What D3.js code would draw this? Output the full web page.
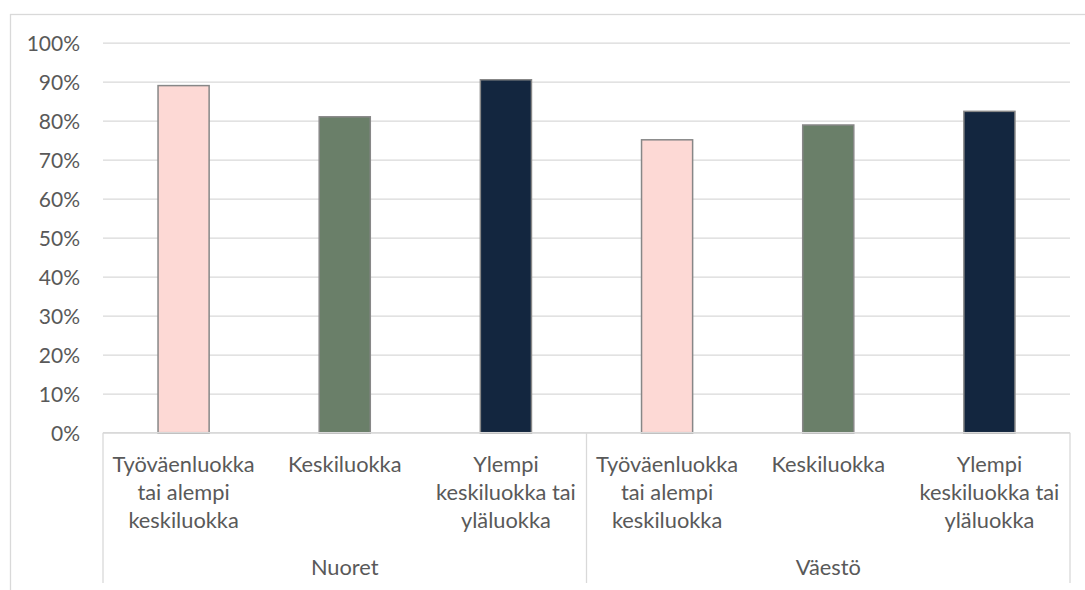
<!DOCTYPE html>
<html>
<head>
<meta charset="utf-8">
<script src="https://cdn.jsdelivr.net/npm/d3@7"></script>
<style>
  html, body { margin: 0; padding: 0; background: #fff; }
  svg { display: block; }
  text { font-family: Lato, "Open Sans", sans-serif; fill: #595959; }
</style>
</head>
<body>
<svg id="chart" width="1085" height="590"></svg>
<script>
const groups = ["Nuoret", "Väestö"];
const classes = ["Työväenluokka tai alempi keskiluokka", "Keskiluokka", "Ylempi keskiluokka tai yläluokka"];
const classLabelLines = [["Työväenluokka", "tai alempi", "keskiluokka"], ["Keskiluokka"], ["Ylempi", "keskiluokka tai", "yläluokka"]];
const nuoretValues = [89.0, 81.0, 90.5];
const vaestoValues = [75.1, 78.9, 82.4];
const yTicks = [0, 10, 20, 30, 40, 50, 60, 70, 80, 90, 100];
const classColors = ["#FDD9D5", "#6A7F69", "#13263F"];

const seriesByGroup = { "Nuoret": nuoretValues, "Väestö": vaestoValues };

(function () {
const svg = d3.select("#chart");
const pLeft = 103, pRight = 1070, pTop = 42.7, pBottom = 432.7;
const labelSize = 21.8;

// outer chart frame
svg.append("rect")
  .attr("x", 10.5).attr("y", 14.5)
  .attr("width", 1100).attr("height", 600)
  .attr("fill", "none").attr("stroke", "#d9d9d9").attr("stroke-width", 1.3);

const y = d3.scaleLinear().domain([0, 100]).range([pBottom, pTop]);
const xGroup = d3.scaleBand().domain(groups).range([pLeft, pRight]).padding(0);
const pad = 0.683;
const xClass = d3.scaleBand().domain(classes).range([0, xGroup.bandwidth()])
  .paddingInner(pad).paddingOuter(pad / 2);

// gridlines
const yAxis = d3.axisLeft(y).tickValues(yTicks).tickFormat(d => d + "%").tickSize(-(pRight - pLeft)).tickPadding(23);
const gy = svg.append("g").attr("transform", `translate(${pLeft},0)`).call(yAxis);
gy.select(".domain").remove();
gy.selectAll(".tick line").attr("stroke", "#d9d9d9").attr("stroke-width", 1.3);
gy.selectAll(".tick text").attr("font-size", 21).attr("fill", "#595959").attr("dy", "0.35em")
  .style("font-family", "Lato, 'Open Sans', sans-serif");

// bars
const gBars = svg.append("g");
groups.forEach(g => {
  const vals = seriesByGroup[g];
  gBars.selectAll(null).data(classes).enter().append("rect")
    .attr("x", c => xGroup(g) + xClass(c))
    .attr("y", (c, i) => y(vals[i]))
    .attr("width", xClass.bandwidth())
    .attr("height", (c, i) => y(0) - y(vals[i]))
    .attr("fill", (c, i) => classColors[i])
    .attr("stroke", "#878787").attr("stroke-width", 1.5);
});

// x axis baseline
svg.append("line")
  .attr("x1", pLeft).attr("x2", pRight).attr("y1", pBottom).attr("y2", pBottom)
  .attr("stroke", "#d9d9d9").attr("stroke-width", 1.3);

// group separators
const seps = [pLeft].concat(groups.map(g => xGroup(g) + xGroup.bandwidth()));
svg.selectAll(null).data(seps).enter().append("line")
  .attr("x1", d => d).attr("x2", d => d)
  .attr("y1", pBottom).attr("y2", 583)
  .attr("stroke", "#d9d9d9").attr("stroke-width", 1.3);

// class labels
groups.forEach(g => {
  classes.forEach((c, i) => {
    const cx = xGroup(g) + xClass(c) + xClass.bandwidth() / 2;
    const t = svg.append("text")
      .attr("text-anchor", "middle")
      .attr("font-size", labelSize)
      .attr("x", cx)
      .attr("y", 471.5);
    classLabelLines[i].forEach((line, j) => {
      t.append("tspan")
        .attr("x", cx)
        .attr("dy", j === 0 ? 0 : 28.2)
        .text(line);
    });
  });
});

// group labels
svg.selectAll(null).data(groups).enter().append("text")
  .attr("text-anchor", "middle")
  .attr("font-size", labelSize)
  .attr("x", g => xGroup(g) + xGroup.bandwidth() / 2)
  .attr("y", 575)
  .text(g => g);
})();
</script>
</body>
</html>
